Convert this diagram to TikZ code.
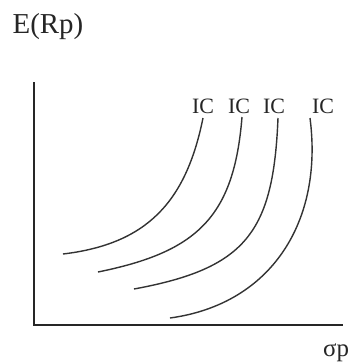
\documentclass[tikz,border=0pt]{standalone}
\usepackage{fontspec}
\setmainfont{Liberation Serif}
\begin{document}
\begin{tikzpicture}[x=1bp,y=-1bp,
  axis/.style={line width=1.6bp, draw=black!85},
  curve/.style={line width=1.4bp, draw=black!80},
  lbl/.style={inner sep=0pt, text=black!85, font=\fontsize{22}{22}\selectfont}]
\useasboundingbox[fill=white] (0,0) rectangle (351,362);
% axes
\coordinate (o) at (34,325);
\coordinate (ytop) at (34,82);
\coordinate (xend) at (343,325);
\draw[axis] (ytop) -- (o) -- (xend);
\node[lbl, anchor=base west, font=\fontsize{29}{29}\selectfont] (ey) at (12.5,33) {E(Rp)};
\node[lbl, anchor=base west, font=\fontsize{25}{25}\selectfont] (sp) at (323,356) {σp};
% labels
\node[lbl, anchor=base west] (ic1) at (192,113) {IC};
\node[lbl, anchor=base west] (ic2) at (228,113) {IC};
\node[lbl, anchor=base west] (ic3) at (263,113) {IC};
\node[lbl, anchor=base west] (ic4) at (312,113) {IC};
% curves
\coordinate (a1) at (63,254);  \coordinate (b1) at (203,118);
\coordinate (a2) at (98,272);  \coordinate (b2) at (242,117);
\coordinate (a3) at (134,289); \coordinate (b3) at (278,118);
\coordinate (a4) at (170,318); \coordinate (b4) at (310,118);
\draw[curve] (a1) .. controls (147,244) and (186,202) .. (b1);
\draw[curve] (a2) .. controls (196.6,252) and (234,217.6) .. (b2);
\draw[curve] (a3) .. controls (246,268.4) and (273.4,232.5) .. (b3);
\draw[curve] (a4) .. controls (271.9,304.1) and (323.4,220.9) .. (b4);
\end{tikzpicture}
\end{document}
